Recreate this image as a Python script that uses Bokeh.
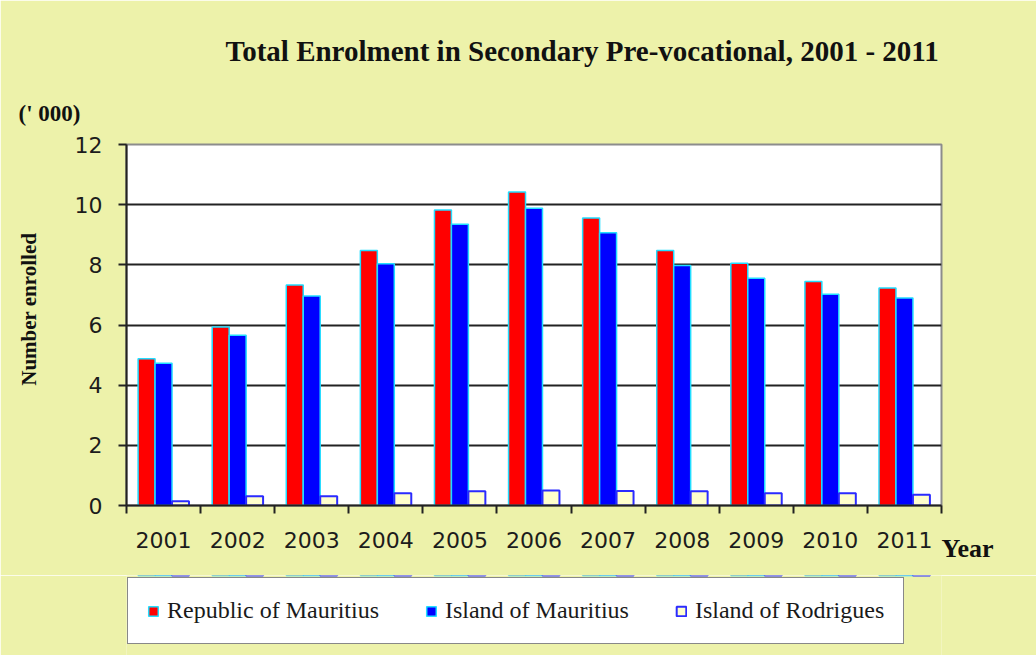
from bokeh.plotting import figure
from bokeh.models import (Range1d, FixedTicker, LinearAxis, Legend,
                          LegendItem, ColumnDataSource, Grid, Title)
from bokeh.layouts import column
from bokeh.transform import dodge
from bokeh.embed import file_html
from bokeh.resources import INLINE

# ---------------- data ----------------
years = ["2001", "2002", "2003", "2004", "2005", "2006",
         "2007", "2008", "2009", "2010", "2011"]
republic = [4.88, 5.93, 7.33, 8.48, 9.82, 10.42, 9.56, 8.48, 8.05, 7.45, 7.23]
island = [4.73, 5.66, 6.96, 8.04, 9.35, 9.88, 9.07, 7.98, 7.55, 7.02, 6.90]
rodrigues = [0.14, 0.31, 0.31, 0.41, 0.47, 0.50, 0.48, 0.47, 0.41, 0.41, 0.36]
series_names = ["Republic of Mauritius", "Island of Mauritius", "Island of Rodrigues"]
y_ticks = [0, 2, 4, 6, 8, 10, 12]

xpos = list(range(1, len(years) + 1))
src = ColumnDataSource(dict(x=xpos, rep=republic, isl=island, rod=rodrigues))

BG = "#EDF2AA"
NB = "\u00a0"
RED = dict(fill_color="#FF0000", line_color="#22DDFF", line_width=1.5)
BLUE = dict(fill_color="#0000FF", line_color="#22DDFF", line_width=1.5)
PALE = dict(fill_color="#FFFFCC", line_color="#2B2BFF", line_width=2)
W = 0.229

p = figure(width=1036, height=575,
           x_range=Range1d(0.5, len(years) + 0.5), y_range=Range1d(0, 12),
           output_backend="svg", toolbar_location=None,
           x_axis_type=None, y_axis_type=None, title_location=None,
           min_border_left=126, min_border_right=95,
           min_border_top=144, min_border_bottom=70,
           background_fill_color="white", border_fill_color=BG)
p.outline_line_color = "#8c8c8c"
p.outline_line_width = 2

# grid
grid = Grid(dimension=1, ticker=FixedTicker(ticks=y_ticks[1:-1]),
            grid_line_color="#222222", grid_line_width=2)
p.add_layout(grid)

# y axis (+ "Number enrolled" as its label)
yaxis = LinearAxis(ticker=FixedTicker(ticks=y_ticks))
yaxis.axis_line_width = 2
yaxis.axis_line_color = "#222222"
yaxis.major_tick_line_width = 2
yaxis.major_tick_line_color = "#222222"
yaxis.major_tick_out = 8
yaxis.major_tick_in = 0
yaxis.minor_tick_line_color = None
yaxis.major_label_text_font = "DejaVu Sans"
yaxis.major_label_text_font_size = "22px"
yaxis.major_label_text_color = "#1c1c1c"
yaxis.major_label_standoff = 16
yaxis.axis_label = NB * 6 + "Number enrolled"
yaxis.axis_label_text_font = "Liberation Serif"
yaxis.axis_label_text_font_style = "bold"
yaxis.axis_label_text_font_size = "21px"
yaxis.axis_label_text_color = "#111111"
yaxis.axis_label_standoff = 31
p.add_layout(yaxis, "left")

# x axis: separator ticks
bounds = [i + 0.5 for i in range(0, len(years) + 1)]
xaxis = LinearAxis(ticker=FixedTicker(ticks=bounds))
xaxis.axis_line_width = 2
xaxis.axis_line_color = "#222222"
xaxis.major_tick_line_width = 2
xaxis.major_tick_line_color = "#222222"
xaxis.major_tick_out = 8
xaxis.major_tick_in = 0
xaxis.minor_tick_line_color = None
xaxis.major_label_text_font_size = "0px"
xaxis.major_label_standoff = 0
p.add_layout(xaxis, "below")

# x axis: year labels (+ "Year" as axis label)
xlab = LinearAxis(ticker=FixedTicker(ticks=xpos))
xlab.axis_line_color = None
xlab.major_tick_line_color = None
xlab.minor_tick_line_color = None
xlab.major_label_overrides = {x: y for x, y in zip(xpos, years)}
xlab.major_label_text_font = "DejaVu Sans"
xlab.major_label_text_font_size = "22px"
xlab.major_label_text_color = "#1c1c1c"
xlab.major_label_standoff = 12
xlab.axis_label = NB * 8 + "Year"
xlab.axis_label_align = "end"
xlab.axis_label_text_font = "Liberation Serif"
xlab.axis_label_text_font_style = "bold"
xlab.axis_label_text_font_size = "26px"
xlab.axis_label_text_color = "#111111"
xlab.axis_label_standoff = -17
p.add_layout(xlab, "below")

# bars
p.vbar(x=dodge("x", -W, range=p.x_range), top="rep", width=W, source=src, **RED)
p.vbar(x=dodge("x", 0, range=p.x_range), top="isl", width=W, source=src, **BLUE)
p.vbar(x=dodge("x", W, range=p.x_range), top="rod", width=W, source=src, **PALE)

# titles
p.add_layout(Title(text="(' 000)", text_font="Liberation Serif",
                   text_font_style="bold", text_font_size="23px",
                   text_color="#111111", align="left", offset=-108,
                   standoff=38), "above")
p.add_layout(Title(text="Total  Enrolment in Secondary Pre-vocational, 2001 - 2011",
                   text_font="Liberation Serif", text_font_style="bold",
                   text_font_size="29px", text_color="#111111",
                   align="left", offset=99, standoff=26), "above")

# ---------------- legend strip ----------------
q = figure(width=1036, height=80,
           x_range=Range1d(0.5, len(years) + 0.5), y_range=Range1d(-2, -1),
           output_backend="svg", toolbar_location=None,
           x_axis_type=None, y_axis_type=None, title_location=None,
           min_border_left=0, min_border_right=0,
           min_border_top=0, min_border_bottom=0,
           background_fill_color=BG, border_fill_color=BG)
q.outline_line_color = None
# same series (lying outside this strip's visible range) feed the legend keys
l1 = q.vbar(x=dodge("x", -W, range=q.x_range), top="rep", width=W, source=src, **RED)
l2 = q.vbar(x=dodge("x", 0, range=q.x_range), top="isl", width=W, source=src, **BLUE)
l3 = q.vbar(x=dodge("x", W, range=q.x_range), top="rod", width=W, source=src, **PALE)

legend = Legend(items=[LegendItem(label=series_names[0], renderers=[l1]),
                       LegendItem(label=series_names[1], renderers=[l2]),
                       LegendItem(label=series_names[2], renderers=[l3])],
                location=(1, 11), orientation="horizontal")
legend.label_text_font = "Liberation Serif"
legend.label_text_font_size = "24px"
legend.label_text_color = "#1a1a1a"
legend.glyph_width = 12
legend.glyph_height = 12
legend.label_standoff = 8
legend.padding = 19
legend.spacing = 46
legend.margin = 0
legend.border_line_color = "#111111"
legend.border_line_width = 1.5
legend.background_fill_color = "white"
legend.background_fill_alpha = 1
q.add_layout(legend)

layout = column(p, q, spacing=0)
open("out.html", "w").write(file_html(layout, INLINE))
